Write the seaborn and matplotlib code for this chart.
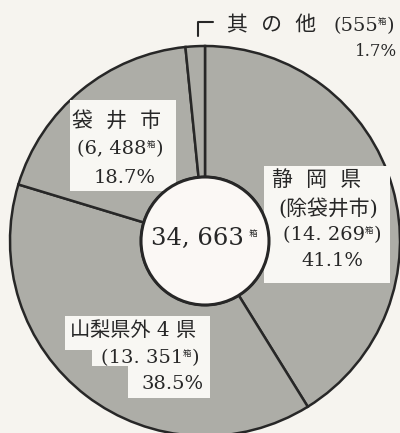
import matplotlib
matplotlib.use("Agg")
import matplotlib.pyplot as plt
from matplotlib.patches import Circle, Rectangle
import seaborn as sns

# --- data ---
regions = ["静岡県(除袋井市)", "山梨県外4県", "袋井市", "其の他"]
boxes = [14269, 13351, 6488, 555]
box_labels = ["14. 269", "13. 351", "6, 488", "555"]
percents = ["41.1%", "38.5%", "18.7%", "1.7%"]
total_label = "34, 663"

W, H = 400, 433
paper = "#f6f4ef"
gray = "#adada7"
ink = "#272727"

sns.set_style("white")
plt.rcParams["font.family"] = ["DejaVu Serif", "Noto Sans CJK JP"]

fig = plt.figure(figsize=(W / 100, H / 100), dpi=100, facecolor=paper)
ax = fig.add_axes([0, 0, 1, 1])
ax.set_facecolor(paper)
renderer = fig.canvas.get_renderer()

cx, cy = 205, H - 241
R, r = 195, 64

ax.pie(boxes, center=(cx, cy), radius=R, startangle=90, counterclock=False,
       colors=[gray] * len(boxes),
       wedgeprops=dict(width=R - r, edgecolor=ink, linewidth=1.8))
ax.add_patch(Circle((cx, cy), r, facecolor="#fbf8f5", edgecolor=ink, lw=2.2, zorder=3))

ax.set_xlim(0, W)
ax.set_ylim(0, H)
ax.set_aspect("equal")
ax.axis("off")


def box(x0, y0, x1, y1):
    ax.add_patch(Rectangle((x0, H - y1), x1 - x0, y1 - y0,
                           facecolor="#f8f7f3", edgecolor="none", zorder=2))


def line(x, y, pieces, ha="center"):
    # pieces: (text, fontsize, raise_px); laid out left to right
    objs = []
    for s, size, dy in pieces:
        o = ax.text(0, H - y + dy, s, fontsize=size, ha="left", va="center",
                    color=ink, zorder=4)
        objs.append(o)
    widths = [o.get_window_extent(renderer).width for o in objs]
    total = sum(widths)
    start = {"left": x, "center": x - total / 2, "right": x - total}[ha]
    for o, w in zip(objs, widths):
        o.set_x(start)
        start += w


def count(label, size=14):
    return [("(" + label, size, 0), ("箱", 6, 4), (")", size, 0)]


# 袋井市
box(70, 100, 176, 191)
line(117, 121, [("袋  井  市", 15, 0)])
line(120, 149, count(box_labels[2]))
line(156, 178, [(percents[2], 14, 0)], ha="right")

# 静岡県
box(264, 166, 390, 283)
line(317, 180, [("静  岡  県", 15, 0)])
line(328, 208, [("(除袋井市)", 15, 0)])
line(332, 235, count(box_labels[0]))
line(332, 261, [(percents[0], 14, 0)])

# 山梨県外4県
box(65, 316, 210, 350)
box(92, 340, 210, 366)
box(128, 360, 210, 398)
line(133, 331, [("山梨県外 4 県", 14.5, 0)])
line(150, 358, count(box_labels[1]))
line(204, 384, [(percents[1], 14, 0)], ha="right")

# center total
line(204, 238, [(total_label, 17.5, 0), ("  箱", 6, 4)])

# 其の他 with corner leader
ax.plot([198, 198, 213], [H - 36, H - 22, H - 22], color=ink, lw=1.5)
line(272, 26, [("其  の  他", 15, 0)])
line(394, 26, count(box_labels[3]), ha="right")
line(397, 52, [(percents[3], 12, 0)], ha="right")

fig.savefig("out.png", dpi=100, facecolor=paper)
